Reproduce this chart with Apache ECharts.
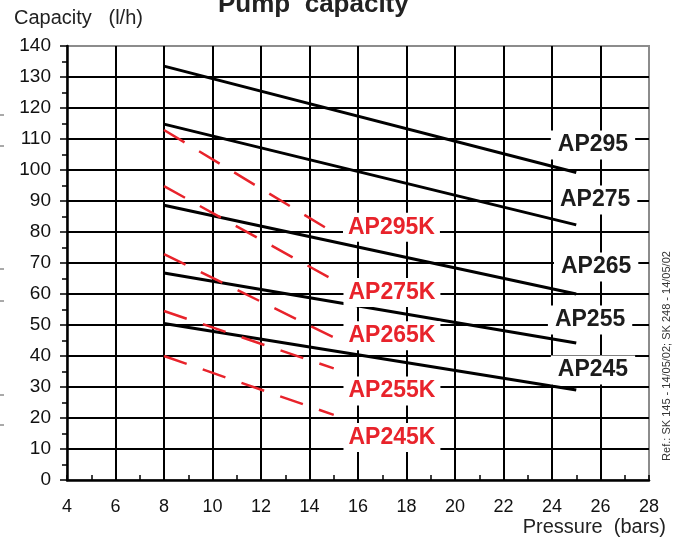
<!doctype html>
<html>
<head>
    <meta charset="UTF-8">
    <title>Pump capacity</title>
    <script src="https://cdn.jsdelivr.net/npm/echarts@6/dist/echarts.min.js"></script>
    <style>
        html, body { margin: 0; padding: 0; background: #fff; }
        #main { width: 684px; height: 542px; }
    </style>
</head>
<body>
<div id="main"></div>
<script type="text/javascript">
    // pump curves
    var pumpNames = ['AP295', 'AP275', 'AP265', 'AP255', 'AP245'];
    var pumpRange = [8, 25];
    var pumpStart = [133.5, 114.8, 88.6, 66.8, 50.5];
    var pumpEnd = [99.2, 82.3, 60, 44.2, 29];

    var kNames = ['AP295K', 'AP275K', 'AP265K', 'AP255K', 'AP245K'];
    var kRange = [8, 15];
    var kStart = [112.9, 94.8, 72.9, 54.5, 40];
    var kEnd = [79.8, 64.5, 46, 36, 21];

    var xTicks = [4, 6, 8, 10, 12, 14, 16, 18, 20, 22, 24, 26, 28];
    var yTicks = [0, 10, 20, 30, 40, 50, 60, 70, 80, 90, 100, 110, 120, 130, 140];

    // where the name boxes sit (axis units)
    var pumpLabelAt = [[25.69, 108.1], [25.78, 90.3], [25.82, 68.7], [25.57, 51.6], [25.69, 35.5]];
    var kLabelAt = [[17.38, 81.5], [17.4, 60.5], [17.4, 46.5], [17.4, 28.7], [17.4, 13.7]];

    var RED = '#e8232b';
    var SANS = '"Liberation Sans", Arial, sans-serif';

    var myChart = echarts.init(document.getElementById('main'));

    var series = [];
    pumpNames.forEach(function (n, i) {
        series.push({
            name: n,
            type: 'line',
            symbol: 'none',
            silent: true,
            z: 3,
            lineStyle: { color: '#000', width: 3 },
            data: [[pumpRange[0], pumpStart[i]], [pumpRange[1], pumpEnd[i]]]
        });
    });
    kNames.forEach(function (n, i) {
        series.push({
            name: n,
            type: 'line',
            symbol: 'none',
            silent: true,
            z: 3,
            lineStyle: { color: RED, width: 2.5, type: [24, 17] },
            data: [[kRange[0], kStart[i]], [kRange[1], kEnd[i]]]
        });
    });

    function labelSeries(names, pos, color, padX) {
        return {
            type: 'scatter',
            symbolSize: 1,
            silent: true,
            z: 10,
            itemStyle: { color: 'rgba(0,0,0,0)', opacity: 1 },
            label: {
                show: true,
                position: 'inside',
                formatter: function (p) { return names[p.dataIndex]; },
                color: color,
                fontFamily: SANS,
                fontWeight: 'bold',
                fontSize: 23,
                backgroundColor: '#fff',
                padding: [4, padX, 2, padX]
            },
            data: pos
        };
    }
    series.push(labelSeries(pumpNames, pumpLabelAt, '#1c1c1c', 7));
    series.push(labelSeries(kNames, kLabelAt, RED, 5));

    var marks = [115, 146, 269, 301, 395, 425].map(function (y) {
        return { type: 'line', shape: { x1: 0, y1: y, x2: 4, y2: y }, style: { stroke: '#555', lineWidth: 1 } };
    });

    option = {
        backgroundColor: '#fff',
        animation: false,
        grid: {
            left: 67, right: 35, top: 46, bottom: 62,
            show: true, borderColor: '#8c8c8c', borderWidth: 2
        },
        xAxis: {
            type: 'value',
            min: xTicks[0], max: xTicks[xTicks.length - 1], interval: 2,
            axisLine: { show: true, onZero: false, lineStyle: { color: '#000', width: 2.5 } },
            axisTick: { show: true, inside: true, length: 5, lineStyle: { color: '#000', width: 1.5 } },
            minorTick: { show: true, splitNumber: 2, length: 5, lineStyle: { color: '#000', width: 1.5 } },
            splitLine: { show: true, showMinLine: false, showMaxLine: false, lineStyle: { color: '#000', width: 2 } },
            axisLabel: { color: '#111', fontSize: 18, fontFamily: SANS, margin: 18 }
        },
        yAxis: {
            type: 'value',
            min: yTicks[0], max: yTicks[yTicks.length - 1], interval: 10,
            axisLine: { show: true, onZero: false, lineStyle: { color: '#000', width: 2.5 } },
            axisTick: { show: true, inside: false, length: 7, lineStyle: { color: '#000', width: 1.5 } },
            minorTick: { show: true, splitNumber: 2, length: 5, lineStyle: { color: '#000', width: 1.5 } },
            splitLine: { show: true, showMinLine: false, showMaxLine: false, lineStyle: { color: '#000', width: 2 } },
            axisLabel: { color: '#111', fontSize: 19, fontFamily: SANS, margin: 16 }
        },
        graphic: [
            {
                type: 'text', left: 218, top: -8, z: 20,
                style: { text: 'Pump  capacity', font: 'bold 26px ' + SANS, fill: '#222' }
            },
            {
                type: 'text', left: 14, top: 8, z: 20,
                style: { text: 'Capacity   (l/h)', font: '20px ' + SANS, fill: '#222' }
            },
            {
                type: 'text', right: 18, top: 517, z: 20,
                style: { text: 'Pressure  (bars)', font: '20px ' + SANS, fill: '#222' }
            },
            {
                type: 'text', x: 667, y: 356, rotation: Math.PI / 2, z: 20,
                style: {
                    text: 'Ref.: SK 145 - 14/05/02; SK 248 - 14/05/02',
                    font: '11px ' + SANS, fill: '#333', align: 'center', verticalAlign: 'middle'
                }
            }
        ].concat(marks),
        series: series
    };
    myChart.setOption(option);
</script>
</body>
</html>
